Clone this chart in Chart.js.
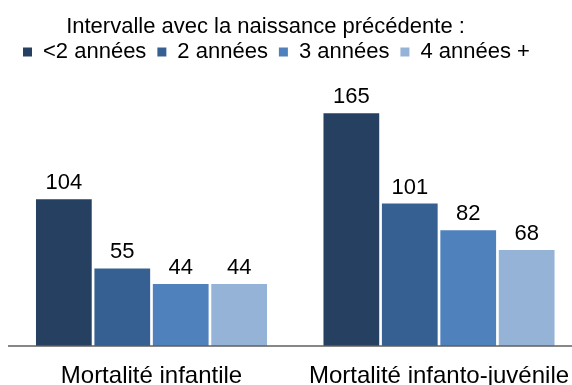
<!DOCTYPE html>
<html>
<head>
<meta charset="utf-8">
<script src="https://cdn.jsdelivr.net/npm/chart.js@4.4.1/dist/chart.umd.min.js"></script>
<style>
  html, body { margin: 0; padding: 0; background: #ffffff; }
  #wrap { position: relative; width: 572px; height: 385px; }
</style>
</head>
<body>
<div id="wrap"><canvas id="c" width="572" height="385"></canvas></div>
<script>
// Categories, series and their values
const categories = ['Mortalité infantile', 'Mortalité infanto-juvénile'];
const seriesNames = ['<2 années', '2 années', '3 années', '4 années +'];
const under2Years = [104, 165];
const twoYears = [55, 101];
const threeYears = [44, 82];
const fourPlusYears = [44, 68];
const headerText = 'Intervalle avec la naissance précédente :';

const seriesValues = [under2Years, twoYears, threeYears, fourPlusYears];
const seriesColors = ['#254061', '#376092', '#4F81BD', '#95B3D7'];
const FONT = '"Liberation Sans", Arial, sans-serif';

Chart.defaults.color = '#000000';
Chart.defaults.font.family = FONT;

// Heading line drawn above the legend
const headerPlugin = {
  id: 'headerLine',
  afterDraw(chart) {
    const ctx = chart.ctx;
    ctx.save();
    ctx.font = '22px ' + FONT;
    ctx.fillStyle = '#000000';
    ctx.textAlign = 'center';
    ctx.textBaseline = 'alphabetic';
    ctx.fillText(headerText, 265.5, 33);
    ctx.restore();
  }
};

// Horizontal base line under the bars
const baseLinePlugin = {
  id: 'baseLine',
  afterDatasetsDraw(chart) {
    const ctx = chart.ctx;
    const y = chart.scales.y.getPixelForValue(0);
    ctx.save();
    ctx.strokeStyle = '#5f5f5f';
    ctx.lineWidth = 1.5;
    ctx.beginPath();
    ctx.moveTo(8, y);
    ctx.lineTo(chart.width, y);
    ctx.stroke();
    ctx.restore();
  }
};

// Value printed above each bar
const valueLabelPlugin = {
  id: 'valueLabels',
  afterDatasetsDraw(chart) {
    const ctx = chart.ctx;
    ctx.save();
    ctx.font = '22px ' + FONT;
    ctx.fillStyle = '#000000';
    ctx.textAlign = 'center';
    ctx.textBaseline = 'alphabetic';
    chart.data.datasets.forEach((ds, i) => {
      const meta = chart.getDatasetMeta(i);
      meta.data.forEach((bar, j) => {
        ctx.fillText(String(ds.data[j]), bar.x, bar.y - 10);
      });
    });
    ctx.restore();
  }
};

new Chart(document.getElementById('c'), {
  type: 'bar',
  data: {
    labels: categories,
    datasets: seriesNames.map((name, i) => ({
      label: name,
      data: seriesValues[i],
      backgroundColor: seriesColors[i],
      borderWidth: 0,
      categoryPercentage: 0.813,
      barPercentage: 0.954,
      clip: false
    }))
  },
  options: {
    responsive: false,
    animation: false,
    layout: { padding: { left: 12, right: 0, top: 30, bottom: 0 } },
    plugins: {
      title: { display: false },
      tooltip: { enabled: false },
      legend: {
        position: 'top',
        align: 'start',
        labels: {
          boxWidth: 9,
          boxHeight: 9,
          padding: 11,
          color: '#000000',
          font: { size: 22, family: FONT }
        }
      }
    },
    scales: {
      x: {
        offset: false,
        grid: { display: false, drawTicks: false },
        border: { display: false },
        ticks: {
          padding: 16,
          maxRotation: 0,
          autoSkip: false,
          color: '#000000',
          font: { size: 24, family: FONT }
        },
        afterFit(scale) {
          scale.height = 39;
          scale.paddingLeft = 0;
          scale.paddingRight = 0;
        }
      },
      y: {
        min: 0,
        max: 193.6,
        display: true,
        grid: { display: false, drawTicks: false },
        border: { display: false },
        ticks: { display: false },
        afterFit(scale) { scale.width = 139.5; }
      },
      yRight: {
        type: 'linear',
        position: 'right',
        display: true,
        grid: { display: false, drawTicks: false },
        border: { display: false },
        ticks: { display: false },
        afterFit(scale) { scale.width = 133; }
      }
    }
  },
  plugins: [headerPlugin, baseLinePlugin, valueLabelPlugin]
});
</script>
</body>
</html>
